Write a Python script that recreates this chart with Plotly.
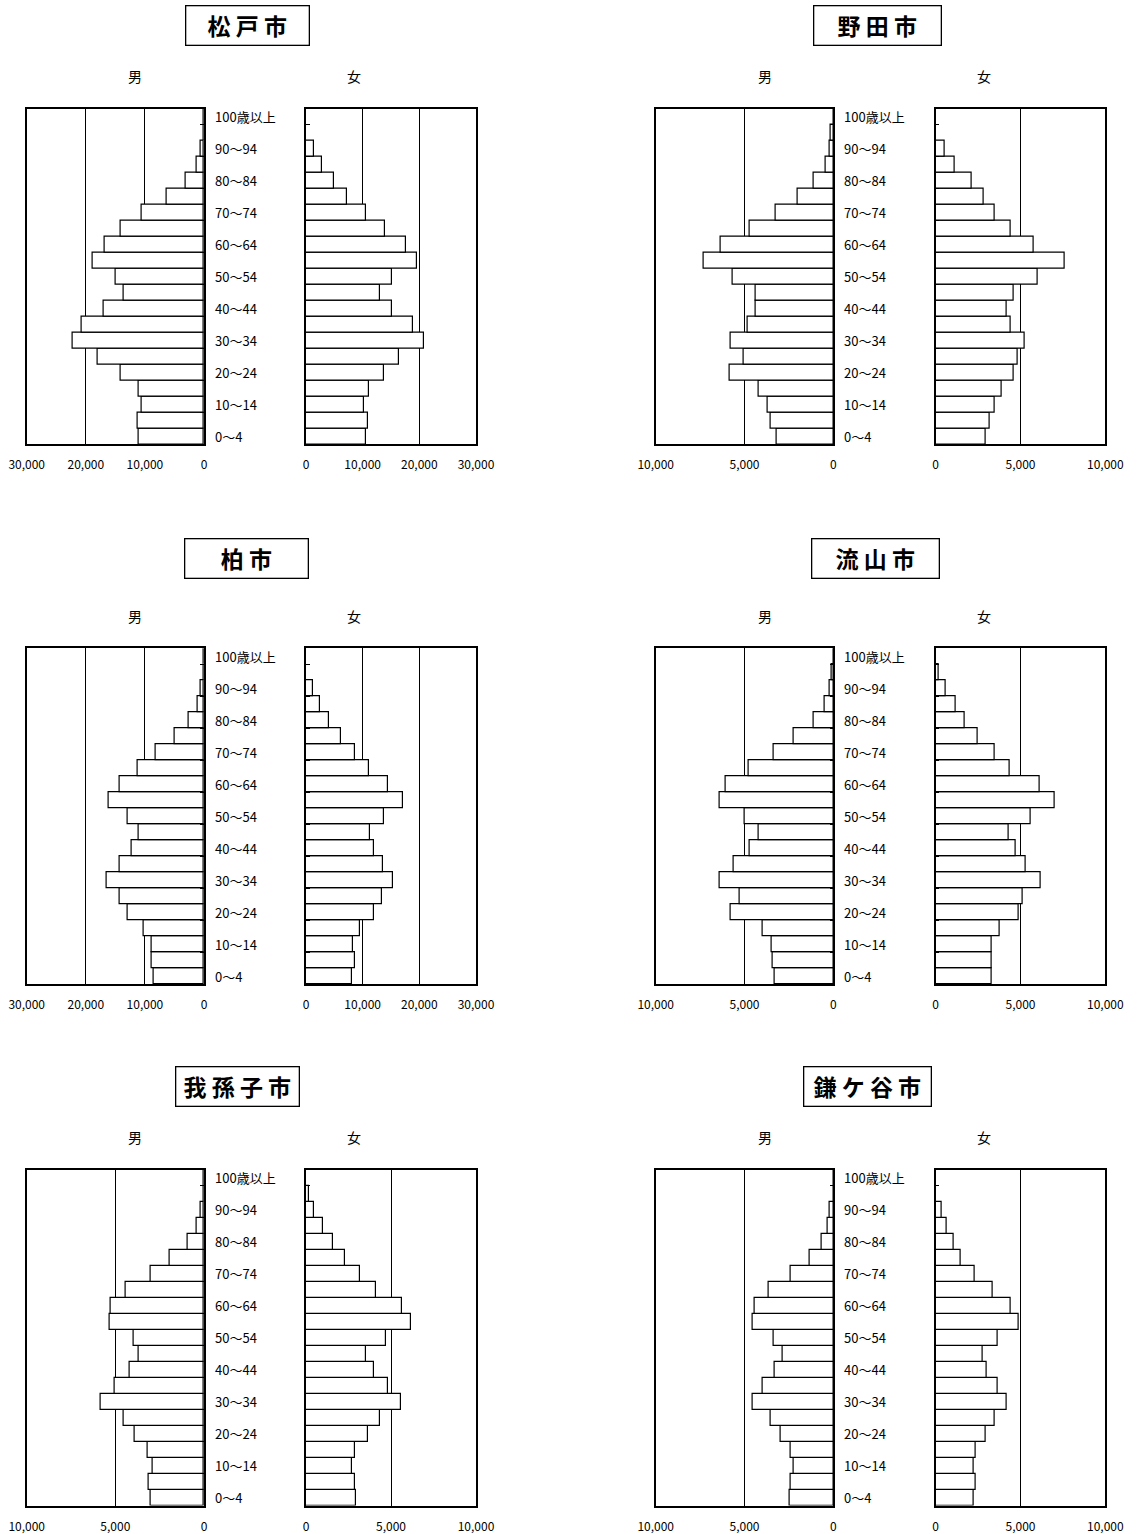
import plotly.graph_objects as go

# ---------------- data ----------------
ages = ["0～4", "5～9", "10～14", "15～19", "20～24", "25～29", "30～34", "35～39",
        "40～44", "45～49", "50～54", "55～59", "60～64", "65～69", "70～74", "75～79",
        "80～84", "85～89", "90～94", "95～99", "100歳以上"]

cities = ["松戸市", "野田市", "柏市", "流山市", "我孫子市", "鎌ケ谷市"]
axis_max = [30000, 10000, 30000, 10000, 10000, 10000]
tick_step = [10000, 5000, 10000, 5000, 5000, 5000]

matsudo_male = [11109, 11278, 10601, 11052, 14098, 17988, 22274, 20752, 17030, 13646, 14943,
                18834, 16861, 14098, 10601, 6316, 3045, 1297, 508, 0, 0]
matsudo_female = [10647, 10882, 10176, 11059, 13765, 16471, 20824, 18941, 15118, 13059, 15118,
                  19588, 17647, 14000, 10647, 7235, 5000, 2765, 1412, 0, 0]
noda_male = [3189, 3546, 3696, 4184, 5853, 5065, 5778, 4822, 4390, 4390, 5684,
             7279, 6341, 4690, 3264, 2026, 1088, 431, 225, 131, 0]
noda_female = [2927, 3202, 3458, 3910, 4578, 4813, 5265, 4401, 4185, 4578, 6012,
               7584, 5796, 4420, 3458, 2849, 2102, 1100, 511, 0, 0]
kashiwa_male = [8459, 8853, 8853, 10150, 12970, 14323, 16466, 14323, 12237, 11052, 12970,
                16184, 14323, 11278, 8233, 5019, 2650, 1071, 508, 0, 0]
kashiwa_female = [8176, 8647, 8353, 9529, 12000, 13353, 15412, 13529, 12000, 11294, 13765,
                  17176, 14471, 11118, 8647, 6118, 4118, 2529, 1176, 0, 0]
nagareyama_male = [3321, 3396, 3471, 3977, 5778, 5272, 6416, 5610, 4690, 4184, 4991,
                   6416, 6079, 4765, 3340, 2251, 1107, 488, 225, 113, 0]
nagareyama_female = [3281, 3281, 3281, 3752, 4872, 5108, 6169, 5324, 4735, 4283, 5580,
                     6994, 6110, 4342, 3458, 2475, 1729, 1198, 589, 196, 0]
abiko_male = [3008, 3102, 2876, 3177, 3891, 4549, 5846, 5057, 4192, 3703, 3985,
              5338, 5263, 4398, 3026, 1955, 940, 432, 169, 0, 0]
abiko_female = [2961, 2882, 2725, 2882, 3647, 4373, 5608, 4824, 4000, 3549, 4686,
                6196, 5667, 4137, 3176, 2294, 1588, 1000, 471, 196, 0]
kamagaya_male = [2477, 2402, 2251, 2402, 2964, 3546, 4559, 3977, 3321, 2833, 3340,
                 4559, 4409, 3621, 2402, 1313, 657, 319, 188, 0, 0]
kamagaya_female = [2220, 2377, 2220, 2377, 2927, 3458, 4204, 3674, 2986, 2750, 3674,
                   4872, 4420, 3360, 2318, 1493, 1041, 668, 354, 0, 0]

male_data = [matsudo_male, noda_male, kashiwa_male, nagareyama_male, abiko_male, kamagaya_male]
female_data = [matsudo_female, noda_female, kashiwa_female, nagareyama_female, abiko_female, kamagaya_female]

# ---------------- layout geometry (pixels) ----------------
W, H = 1140, 1534
cols = [
    dict(male=(26.7, 204.0), female=(306.0, 476.0), label_x=213.0, man_x=135.0, woman_x=354.0),
    dict(male=(655.7, 833.3), female=(935.7, 1105.3), label_x=842.0, man_x=764.5, woman_x=983.5),
]
rows = [
    dict(plot=(108.7, 444.3), sex_y=76.0, title_y=26.0),
    dict(plot=(648.3, 984.0), sex_y=616.0, title_y=558.0),
    dict(plot=(1170.0, 1505.5), sex_y=1137.0, title_y=1086.0),
]
title_boxes = [(247.5, 124), (877.5, 128), (246.3, 124), (876.0, 128), (237.5, 124), (867.0, 128)]

FONT = "Noto Sans CJK JP, Noto Sans, sans-serif"


def px_x(v):
    return v / W


def px_y(v):
    return 1 - v / H


fig = go.Figure()
layout = dict(
    width=W, height=H, margin=dict(l=0, r=0, t=0, b=0, autoexpand=False),
    paper_bgcolor="white", plot_bgcolor="white", showlegend=False,
    font=dict(family=FONT, color="black", size=12), bargap=0,
)
annotations = []
yidx = list(range(len(ages)))
boundary_ticks = [k - 0.5 for k in range(0, len(ages), 2)]

for i, city in enumerate(cities):
    c = cols[i % 2]
    r = rows[i // 2]
    mx = axis_max[i]
    step = tick_step[i]
    tvals = list(range(0, mx + 1, step))
    ydom = [px_y(r["plot"][1]), px_y(r["plot"][0])]
    for j, (sex, data) in enumerate([("male", male_data[i]), ("female", female_data[i])]):
        n = i * 2 + j + 1
        xs = "" if n == 1 else str(n)
        fig.add_trace(go.Bar(
            x=data, y=yidx, orientation="h", width=1.0,
            marker=dict(color="white", line=dict(color="black", width=1.2)),
            xaxis="x" + xs, yaxis="y" + xs, hoverinfo="x+y",
        ))
        xd = c[sex]
        layout["xaxis" + xs] = dict(
            domain=[px_x(xd[0]), px_x(xd[1])], anchor="y" + xs,
            range=[mx, 0] if sex == "male" else [0, mx],
            tickvals=tvals, tickformat=",", ticks="", showgrid=True,
            gridcolor="black", gridwidth=1, zeroline=False,
            showline=True, linecolor="black", linewidth=1.5, mirror=True,
            tickfont=dict(family=FONT, size=12, color="black"),
            ticklabelstandoff=9, fixedrange=True, automargin=False,
        )
        layout["yaxis" + xs] = dict(
            domain=ydom, anchor="x" + xs, range=[-0.5, len(ages) - 0.5],
            side="right" if sex == "male" else "left",
            tickvals=boundary_ticks, showticklabels=False, ticks="inside",
            ticklen=4, tickcolor="black", tickwidth=1,
            showgrid=False, zeroline=False,
            showline=True, linecolor="black", linewidth=1.5, mirror=True,
            fixedrange=True, automargin=False,
        )
    # age labels (every other category)
    ya = "y" + ("" if i * 2 + 1 == 1 else str(i * 2 + 1))
    for k in range(0, len(ages), 2):
        annotations.append(dict(
            x=px_x(c["label_x"]), xref="paper", y=k, yref=ya,
            text=ages[k], showarrow=False, xanchor="left", yanchor="middle",
            font=dict(family=FONT, size=13, color="black"),
        ))
    # 男 / 女
    annotations.append(dict(x=px_x(c["man_x"]), y=px_y(r["sex_y"]), xref="paper", yref="paper",
                            text="男", showarrow=False, xanchor="center", yanchor="middle",
                            font=dict(family=FONT, size=14, color="black")))
    annotations.append(dict(x=px_x(c["woman_x"]), y=px_y(r["sex_y"]), xref="paper", yref="paper",
                            text="女", showarrow=False, xanchor="center", yanchor="middle",
                            font=dict(family=FONT, size=14, color="black")))
    # title box
    tx, tw = title_boxes[i]
    annotations.append(dict(x=px_x(tx), y=px_y(r["title_y"]), xref="paper", yref="paper",
                            text=" ".join(city), showarrow=False, xanchor="center", yanchor="middle",
                            width=tw - 2, height=38, borderpad=0,
                            bordercolor="black", borderwidth=1.3, bgcolor="white",
                            font=dict(family=FONT, size=23, color="black", weight="bold")))

layout["annotations"] = annotations
fig.update_layout(**layout)
fig.write_html("out.html", config={"displayModeBar": False},
               post_script="document.body.style.margin='0';document.body.style.overflow='hidden';")
